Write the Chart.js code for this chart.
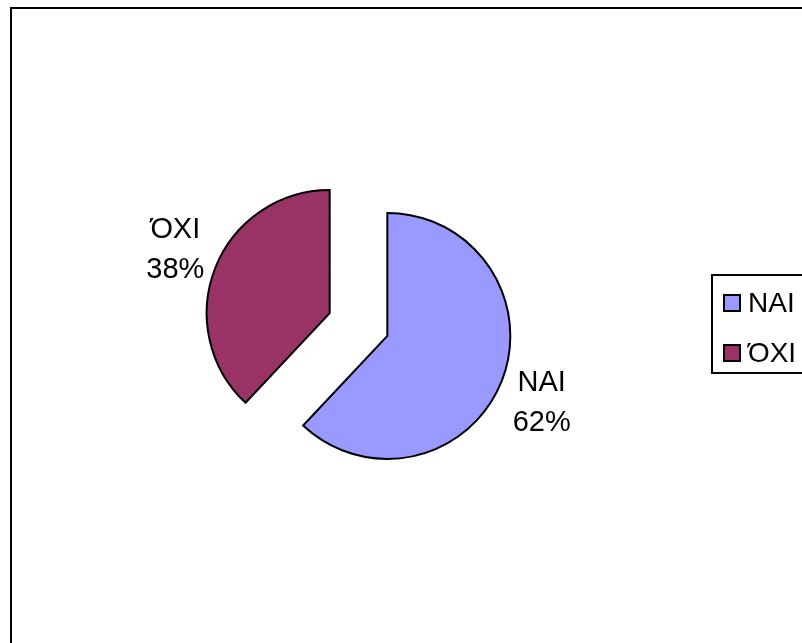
<!DOCTYPE html>
<html>
<head>
<meta charset="utf-8">
<script src="https://cdn.jsdelivr.net/npm/chart.js@4/dist/chart.umd.min.js"></script>
<style>
  html, body { margin: 0; padding: 0; background: #fff; }
  #wrap { width: 802px; height: 643px; }
</style>
</head>
<body>
<div id="wrap"><canvas id="myChart" width="802" height="643"></canvas></div>
<script>
const categories = ['ΝΑΙ', 'ΌΧΙ'];
const values = [62, 38];
const percentLabels = ['62%', '38%'];
const sliceColors = ['#9999FF', '#993366'];

const fontFamily = '"Liberation Sans", Arial, sans-serif';
const pieRadius = 123;
const explode = 31; // pixels each slice is pulled out

// outer frame, cut by the right and bottom edge
const framePlugin = {
    id: 'frame',
    beforeDraw(chart) {
        const ctx = chart.ctx;
        ctx.save();
        ctx.fillStyle = '#fff';
        ctx.fillRect(0, 0, chart.width, chart.height);
        ctx.strokeStyle = '#000';
        ctx.lineWidth = 2;
        ctx.strokeRect(11, 8, 820, 660);
        ctx.restore();
    }
};

// chart.js v4 moves arcs by offset/4, grows the radius and trims the angle,
// undo the last two so both slices keep the same radius and true angles
const equalRadiusPlugin = {
    id: 'equalRadius',
    afterDatasetUpdate(chart, args) {
        const meta = chart.getDatasetMeta(args.index);
        meta.data.forEach(arc => {
            const off = (arc.options.offset || 0) / 4;
            const fix = 1 - Math.sin(Math.min(Math.PI, arc.circumference));
            const ro = off * fix;
            arc.outerRadius = pieRadius - ro;
            const d = (ro / Math.PI) / pieRadius / 2;
            arc.startAngle -= d;
            arc.endAngle += d;
        });
    }
};

// two-line labels outside each slice
const labelPlugin = {
    id: 'sliceLabels',
    afterDatasetsDraw(chart) {
        const ctx = chart.ctx;
        const meta = chart.getDatasetMeta(0);
        ctx.save();
        ctx.fillStyle = '#000';
        ctx.font = '29px ' + fontFamily;
        ctx.textAlign = 'center';
        ctx.textBaseline = 'alphabetic';
        meta.data.forEach((arc, i) => {
            const mid = (arc.startAngle + arc.endAngle) / 2;
            const cx = arc.x + Math.cos(mid) * explode;
            const cy = arc.y + Math.sin(mid) * explode;
            const lx = cx + Math.cos(mid) * 166;
            const ly = cy + Math.sin(mid) * 178;
            ctx.fillText(categories[i], lx, ly - 10);
            ctx.fillText(percentLabels[i], lx, ly + 30);
        });
        ctx.restore();
    }
};

// boxed legend at the right edge
const legendPlugin = {
    id: 'boxLegend',
    afterDraw(chart) {
        const ctx = chart.ctx;
        ctx.save();
        ctx.strokeStyle = '#000';
        ctx.lineWidth = 2;
        ctx.strokeRect(712, 275, 120, 98);
        ctx.font = '28px ' + fontFamily;
        ctx.textBaseline = 'alphabetic';
        ctx.textAlign = 'left';
        categories.forEach((c, i) => {
            const y = 303 + i * 50;
            ctx.fillStyle = sliceColors[i];
            ctx.fillRect(724, y - 8, 16, 16);
            ctx.lineWidth = 2;
            ctx.strokeRect(724, y - 8, 16, 16);
            ctx.fillStyle = '#000';
            ctx.fillText(c, 748, y + 9);
        });
        ctx.restore();
    }
};

const config = {
    type: 'pie',
    data: {
        labels: categories,
        datasets: [{
            data: values,
            backgroundColor: sliceColors,
            borderColor: '#000',
            borderWidth: 2,
            offset: explode * 4,
            radius: pieRadius,
            borderJoinStyle: 'miter'
        }]
    },
    options: {
        responsive: false,
        animation: false,
        layout: {
            padding: { left: 0, right: 85, top: 6, bottom: 0 }
        },
        plugins: {
            legend: { display: false },
            tooltip: { enabled: false }
        }
    },
    plugins: [framePlugin, equalRadiusPlugin, labelPlugin, legendPlugin]
};

const myChart = new Chart(document.getElementById('myChart'), config);
</script>
</body>
</html>
